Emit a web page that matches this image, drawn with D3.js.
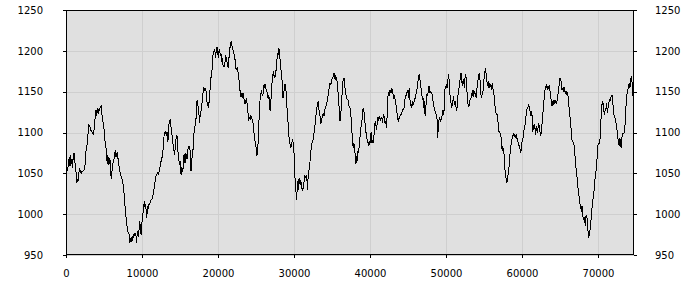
<!DOCTYPE html>
<html>
<head>
<meta charset="utf-8">
<script src="https://cdn.jsdelivr.net/npm/d3@7"></script>
<style>
  body { margin: 0; background: #fff; }
  .axis text { font-family: "DejaVu Sans", sans-serif; font-size: 10px; fill: #000; }
  .axis path { display: none; }
  .axis line { stroke: #000; shape-rendering: crispEdges; }
  .grid line { stroke: #cfcfcf; shape-rendering: crispEdges; }
  .grid path, .grid text { display: none; }
</style>
</head>
<body>
<div id="chart"></div>
<script>
// readings, one per sample
var sampleStep = 87.5;
var prices = [
  1056,1052,1054,1057,1064,1070,1059,1073,1061,1068,1057,1073,1075,1065,1061,1052,1038,1042,1040,1046,
  1056,1054,1052,1049,1053,1052,1053,1054,1056,1063,1077,1079,1089,1097,1110,1108,1107,1103,1102,1101,
  1099,1098,1101,1114,1118,1128,1120,1126,1130,1123,1128,1130,1131,1132,1122,1116,1112,1106,1095,1087,
  1083,1073,1061,1073,1060,1063,1069,1056,1043,1052,1058,1065,1067,1070,1078,1070,1073,1076,1069,1065,
  1056,1052,1048,1046,1044,1040,1036,1028,1018,1007,999,991,983,979,977,975,965,969,967,971,
  969,975,971,977,973,977,965,975,979,972,983,991,981,975,987,997,1003,1010,1016,1007,
  1012,995,1001,1010,1007,1014,1012,1016,1018,1018,1021,1024,1030,1032,1040,1046,1048,1049,1052,
  // 12500 - 25000
  1048,1052,1056,1061,1065,1067,1073,1079,1091,1101,1099,1101,1098,1101,1089,1093,1112,1114,1116,1106,
  1099,1093,1085,1081,1073,1079,1087,1097,1095,1081,1071,1065,1060,1065,1048,1058,1052,1056,1071,1073,
  1063,1075,1073,1067,1077,1082,1083,1081,1077,1053,1065,1073,1079,1093,1106,1108,1112,1122,1138,1140,
  1126,1122,1112,1124,1126,1130,1142,1148,1155,1152,1154,1152,1150,1138,1134,1132,1136,1146,1157,1167,
  1171,1181,1195,1197,1201,1199,1191,1201,1205,1201,1191,1199,1201,1195,1197,1187,1191,1183,1181,1181,
  1185,1195,1191,1187,1181,1179,1191,1197,1208,1210,1212,1203,1201,1199,1195,1191,1181,1177,1179,1179,
  1171,1165,1159,1148,1143,1146,1144,1148,1146,1138,1136,1136,1142,1138,1130,1122,1116,1118,1120,1116,
  1120,1116,1112,
  // 25000 - 37500
  1108,1097,1091,1085,1081,1071,1077,1089,1110,1130,1142,1148,1150,1147,1145,1154,1159,1156,1159,1152,
  1152,1144,1142,1146,1136,1126,1136,1150,1163,1171,1173,1169,1167,1171,1177,1187,1197,1195,1203,1199,
  1189,1179,1171,1163,1142,1144,1152,1159,1159,1150,1134,1122,1112,1097,1091,1085,1081,1085,1089,1091,
  1085,1073,1048,1040,1026,1018,1040,1030,1042,1044,1036,1042,1036,1030,1028,1036,1040,1048,1046,1044,
  1048,1030,1044,1052,1056,1065,1077,1081,1087,1089,1093,1099,1106,1112,1122,1130,1132,1138,1130,1126,
  1120,1110,1114,1118,1120,1124,1120,1128,1130,1132,1136,1138,1144,1150,1156,1161,1159,1161,1165,1167,
  1169,1173,1167,1169,1165,1167,1161,1150,1140,1126,1114,1122,1130,1144,1161,1165,1167,1163,1148,1146,
  1142,1140,1140,
  // 37500 - 50000
  1134,1132,1130,1126,1114,1101,1089,1081,1087,1077,1073,1061,1071,1065,1077,1075,1085,1093,1101,1110,
  1114,1126,1130,1126,1118,1108,1101,1095,1091,1087,1085,1089,1085,1095,1101,1087,1091,1087,1095,1106,
  1114,1110,1103,1112,1118,1116,1120,1118,1114,1119,1118,1112,1120,1122,1116,1110,1114,1106,1122,1144,
  1148,1146,1152,1148,1154,1150,1152,1146,1142,1144,1140,1136,1128,1122,1116,1114,1118,1119,1122,1122,
  1124,1126,1130,1128,1134,1142,1144,1148,1150,1152,1142,1154,1144,1132,1134,1130,1138,1134,1136,1140,
  1142,1145,1150,1154,1161,1167,1171,1167,1159,1154,1148,1140,1142,1130,1138,1120,1130,1138,1148,1146,
  1152,1157,1148,1150,1148,1149,1144,1138,1132,1130,1126,1124,1120,1116,1093,1110,1116,1118,1114,1116,
  1118,1122,1128,
  // 50000 - 62500
  1122,1132,1154,1156,1159,1154,1161,1171,1165,1148,1144,1136,1130,1136,1140,1144,1134,1138,1134,1128,
  1130,1144,1148,1154,1161,1167,1173,1165,1157,1163,1165,1154,1167,1171,1165,1150,1136,1134,1132,1138,
  1142,1142,1148,1145,1152,1144,1150,1148,1145,1142,1154,1163,1165,1171,1173,1159,1146,1142,1148,1150,
  1161,1169,1175,1177,1171,1163,1157,1163,1154,1161,1157,1159,1152,1161,1154,1148,1144,1134,1126,1122,
  1124,1116,1112,1101,1101,1099,1097,1081,1079,1083,1075,1073,1056,1046,1044,1038,1044,1050,1056,1065,
  1077,1083,1089,1093,1097,1098,1095,1097,1095,1097,1093,1091,1087,1085,1081,1079,1075,1085,1089,1093,
  1095,1106,1108,1114,1122,1128,1130,1132,1134,1130,1126,1122,1124,1120,1101,1106,1110,1108,1097,1108,
  1103,1101,1106,
  // 62500 - 74740
  1110,1108,1099,1097,1101,1112,1122,1130,1142,1150,1157,1154,1159,1154,1156,1154,1156,1150,1142,1138,
  1132,1138,1134,1140,1136,1138,1136,1136,1142,1148,1154,1161,1167,1165,1159,1152,1154,1150,1156,1152,
  1148,1150,1146,1150,1144,1134,1128,1118,1110,1099,1091,1089,1087,1085,1077,1065,1056,1050,1040,1032,
  1024,1020,1012,1007,1005,1010,999,993,997,993,985,997,999,991,979,971,975,981,985,999,
  1007,1016,1020,1028,1038,1048,1052,1061,1073,1085,1087,1087,1091,1110,1122,1134,1138,1134,1126,1122,
  1130,1128,1136,1124,1130,1134,1140,1138,1142,1144,1146,1138,1130,1122,1120,1116,1112,1108,1101,1093,
  1089,1083,1093,1085,1081,1093,1099,1099,1099,1101,1114,1130,1142,1150,1152,1157,1161,1154,1163,1169,
  1165,1150,1142,1132
];
var xTicks = [0, 10000, 20000, 30000, 40000, 50000, 60000, 70000];
var yTicks = [950, 1000, 1050, 1100, 1150, 1200, 1250];
var xDomain = [0, 74740];
var yDomain = [950, 1250];

var margin = {top: 10, right: 66, bottom: 45, left: 66};
var width = 700 - margin.left - margin.right;
var height = 300 - margin.top - margin.bottom;

var x = d3.scaleLinear().domain(xDomain).range([0, width]);
var y = d3.scaleLinear().domain(yDomain).range([height, 0]);
var fmt = d3.format("d");

var svg = d3.select("#chart").append("svg")
    .attr("width", 700)
    .attr("height", 300)
  .append("g")
    .attr("transform", "translate(" + margin.left + "," + margin.top + ")");

svg.append("rect")
    .attr("width", width)
    .attr("height", height)
    .attr("fill", "#e0e0e0");

svg.append("g")
    .attr("class", "grid")
    .call(d3.axisLeft(y).tickValues(yTicks).tickSize(-width));

svg.append("g")
    .attr("class", "grid")
    .attr("transform", "translate(0," + height + ")")
    .call(d3.axisBottom(x).tickValues(xTicks).tickSize(-height));

var line = d3.line()
    .x(function(d, i) { return x(i * sampleStep); })
    .y(function(d) { return y(d); });

svg.append("path")
    .datum(prices)
    .attr("fill", "none")
    .attr("stroke", "#000")
    .attr("stroke-width", 1)
    .attr("shape-rendering", "crispEdges")
    .attr("d", line);

svg.append("rect")
    .attr("x", 0.5)
    .attr("y", 0.5)
    .attr("width", width - 1)
    .attr("height", height - 1)
    .attr("fill", "none")
    .attr("stroke", "#000")
    .attr("shape-rendering", "crispEdges");

svg.append("g")
    .attr("class", "axis")
    .call(d3.axisLeft(y).tickValues(yTicks).tickSize(3).tickPadding(20).tickFormat(fmt));

svg.append("g")
    .attr("class", "axis")
    .attr("transform", "translate(" + width + ",0)")
    .call(d3.axisRight(y).tickValues(yTicks).tickSize(3).tickPadding(18).tickFormat(fmt));

svg.append("g")
    .attr("class", "axis")
    .attr("transform", "translate(0," + height + ")")
    .call(d3.axisBottom(x).tickValues(xTicks).tickSize(3).tickPadding(12).tickFormat(fmt));
</script>
</body>
</html>
